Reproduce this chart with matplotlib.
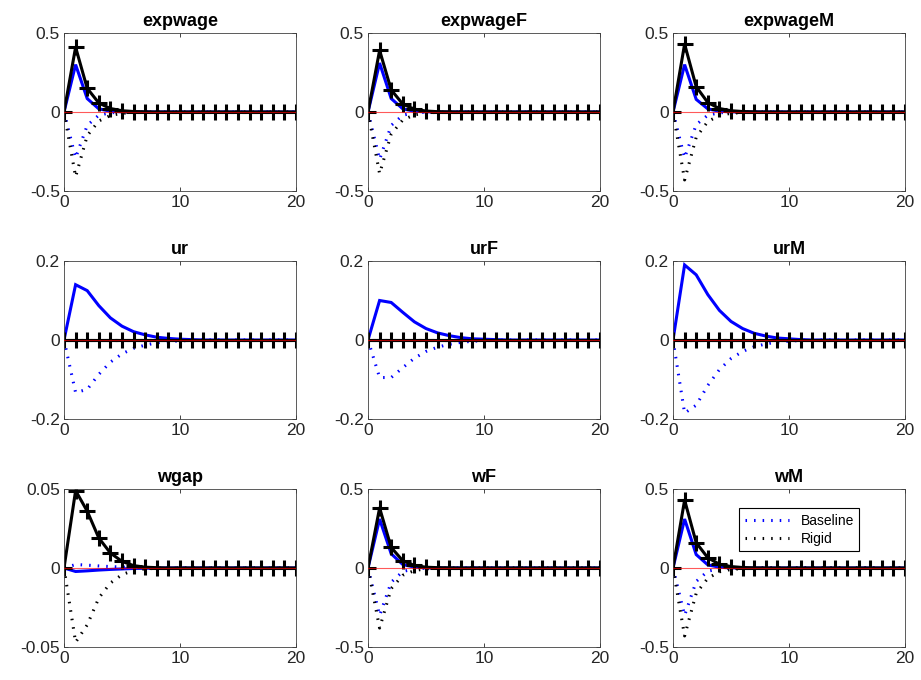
import numpy as np
import matplotlib
matplotlib.use("Agg")
import matplotlib.pyplot as plt
from matplotlib.ticker import FuncFormatter

plt.rcParams['font.family'] = ['Liberation Sans', 'DejaVu Sans']
plt.rcParams['axes.unicode_minus'] = False

# horizon 0..20
t = list(range(21))

# --- impulse responses (positive shock / negative shock) ---
expwage_base     = [0, .30, .085, .02, .005, .001] + [0] * 15
expwage_base_neg = [0, -.29, -.085, -.02, -.005, -.001] + [0] * 15
expwage_rig      = [0, .41, .15, .057, .022, .008, .003, .001] + [0] * 13
expwage_rig_neg  = [0, -.41, -.15, -.057, -.022, -.008, -.003, -.001] + [0] * 13

expwageF_base     = [0, .31, .085, .02, .005, .001] + [0] * 15
expwageF_base_neg = [0, -.30, -.085, -.02, -.005, -.001] + [0] * 15
expwageF_rig      = [0, .39, .14, .05, .018, .006, .002, .001] + [0] * 13
expwageF_rig_neg  = [0, -.39, -.14, -.05, -.018, -.006, -.002, -.001] + [0] * 13

expwageM_base     = [0, .30, .08, .02, .005, .001] + [0] * 15
expwageM_base_neg = [0, -.29, -.08, -.02, -.005, -.001] + [0] * 15
expwageM_rig      = [0, .43, .16, .06, .022, .008, .003, .001] + [0] * 13
expwageM_rig_neg  = [0, -.43, -.16, -.06, -.022, -.008, -.003, -.001] + [0] * 13

ur_base     = [0, .14, .125, .087, .056, .035, .021, .013, .007, .004, .002, .001] + [0] * 9
ur_base_neg = [0, -.133, -.125, -.087, -.056, -.035, -.021, -.013, -.007, -.004, -.002, -.001] + [0] * 9
ur_rig      = [0] * 21
ur_rig_neg  = [0] * 21

urF_base     = [0, .10, .095, .07, .046, .029, .018, .011, .006, .003, .002, .001] + [0] * 9
urF_base_neg = [0, -.095, -.095, -.07, -.046, -.029, -.018, -.011, -.006, -.003, -.002, -.001] + [0] * 9
urF_rig      = [0] * 21
urF_rig_neg  = [0] * 21

urM_base     = [0, .19, .165, .115, .075, .047, .029, .017, .01, .005, .003, .001] + [0] * 9
urM_base_neg = [0, -.185, -.165, -.115, -.075, -.047, -.029, -.017, -.01, -.005, -.003, -.001] + [0] * 9
urM_rig      = [0] * 21
urM_rig_neg  = [0] * 21

wgap_base     = [0, -.0022, -.0018, -.0013, -.0009, -.0006, -.0003, -.0002, -.0001] + [0] * 12
wgap_base_neg = [0, .0022, .0018, .0013, .0009, .0006, .0003, .0002, .0001] + [0] * 12
wgap_rig      = [0, .049, .036, .019, .0095, .0042, .0015, .0005, .0002] + [0] * 12
wgap_rig_neg  = [0, -.047, -.036, -.019, -.0095, -.0042, -.0015, -.0005, -.0002] + [0] * 12

wF_base     = [0, .31, .09, .022, .006, .001] + [0] * 15
wF_base_neg = [0, -.30, -.09, -.022, -.006, -.001] + [0] * 15
wF_rig      = [0, .38, .13, .046, .016, .005, .002, .001] + [0] * 13
wF_rig_neg  = [0, -.38, -.13, -.046, -.016, -.005, -.002, -.001] + [0] * 13

wM_base     = [0, .31, .085, .02, .005, .001] + [0] * 15
wM_base_neg = [0, -.30, -.085, -.02, -.005, -.001] + [0] * 15
wM_rig      = [0, .43, .16, .065, .024, .009, .003, .001] + [0] * 13
wM_rig_neg  = [0, -.43, -.16, -.065, -.024, -.009, -.003, -.001] + [0] * 13

titles = ["expwage", "expwageF", "expwageM", "ur", "urF", "urM", "wgap", "wF", "wM"]
series = [
    (expwage_base, expwage_base_neg, expwage_rig, expwage_rig_neg),
    (expwageF_base, expwageF_base_neg, expwageF_rig, expwageF_rig_neg),
    (expwageM_base, expwageM_base_neg, expwageM_rig, expwageM_rig_neg),
    (ur_base, ur_base_neg, ur_rig, ur_rig_neg),
    (urF_base, urF_base_neg, urF_rig, urF_rig_neg),
    (urM_base, urM_base_neg, urM_rig, urM_rig_neg),
    (wgap_base, wgap_base_neg, wgap_rig, wgap_rig_neg),
    (wF_base, wF_base_neg, wF_rig, wF_rig_neg),
    (wM_base, wM_base_neg, wM_rig, wM_rig_neg),
]
ylims = [0.5, 0.5, 0.5, 0.2, 0.2, 0.2, 0.05, 0.5, 0.5]

W, H = 921, 680
fig = plt.figure(figsize=(W / 100, H / 100), dpi=100)

col_left = [64, 368, 673]
row_top = [33, 261, 489]
ax_w, ax_h = 232, 158
dots = (0, (0.5, 2.3))

for i, name in enumerate(titles):
    r, c = divmod(i, 3)
    ax = fig.add_axes([col_left[c] / W, 1 - (row_top[r] + ax_h) / H, ax_w / W, ax_h / H])
    base, base_neg, rig, rig_neg = series[i]

    ax.plot(t, base, color='blue', lw=2.2, solid_joinstyle='miter')
    ax.plot(t, base_neg, color='blue', lw=2.2, ls=dots, label='Baseline')
    ax.plot(t, rig, color='black', lw=2.2, marker='+', ms=11, mew=2.2)
    ax.plot(t, rig_neg, color='black', lw=2.2, ls=dots, label='Rigid')
    ax.axhline(0, color='red', lw=0.8, alpha=0.65, zorder=5)

    lim = ylims[i]
    ax.set_xlim(0, 20)
    ax.set_ylim(-lim, lim)
    ax.set_xticks([0, 10, 20])
    ax.set_yticks([-lim, 0, lim])
    ax.yaxis.set_major_formatter(FuncFormatter(lambda v, p: '%g' % v))
    ax.tick_params(direction='in', top=True, right=True, length=3, width=0.6,
                   labelsize=12.5, colors='#262626', pad=3)
    for s in ax.spines.values():
        s.set_color('#404040')
        s.set_linewidth(0.6)
    ax.set_title(name, fontsize=13, fontweight='bold', pad=5)

    if name == "wM":
        leg = ax.legend(loc='upper left', bbox_to_anchor=(0.286, 0.88),
                        borderaxespad=0, fontsize=10, fancybox=False,
                        framealpha=1, edgecolor='black', handlelength=3.2,
                        borderpad=0.4, labelspacing=0.3)
        leg.get_frame().set_linewidth(0.8)

fig.savefig("out.png", dpi=100)
